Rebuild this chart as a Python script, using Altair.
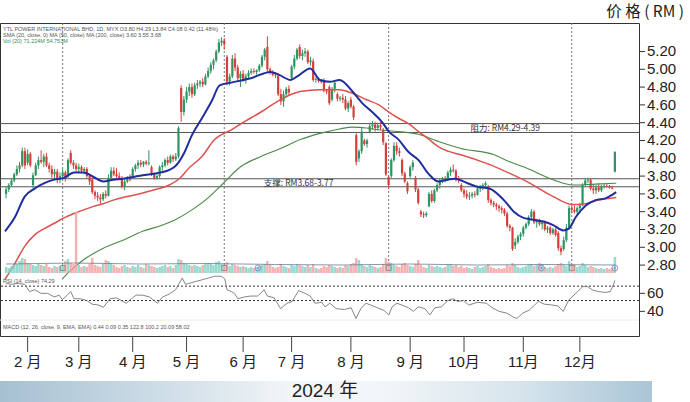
import altair as alt
import pandas as pd

FONT = "Liberation Sans, Noto Sans CJK SC, sans-serif"
CJK = "Noto Sans CJK SC, Liberation Sans, sans-serif"

# ---------------- candle data (one entry per trading day, index 0 = 19 Jan 2024) ----------------
opens = [
    3.60, 3.65, 3.70, 3.75, 3.82, 3.88, 3.92, 4.08, 3.95, 4.05,
    3.70, 3.81, 3.92, 3.98, 3.96, 4.02, 3.92, 3.88, 3.82, 3.85,
    3.76, 3.80, 3.84, 3.80, 4.06, 3.95, 3.92, 3.88, 3.90, 3.86,
    3.88, 3.80, 3.76, 3.62, 3.58, 3.56, 3.54, 3.60, 3.58, 3.78,
    3.86, 3.82, 3.80, 3.78, 3.68, 3.74, 3.78, 3.80, 3.88, 3.92,
    3.95, 3.93, 3.96, 3.94, 3.90, 3.82, 3.78, 3.80, 3.90, 3.92,
    3.98, 3.95, 4.02, 3.99, 4.02, 4.79, 4.52, 4.66, 4.75, 4.80,
    4.72, 4.82, 4.84, 4.86, 4.83, 4.92, 4.98, 5.05, 5.10, 5.20,
    5.30, 5.32, 5.14, 4.86, 4.92, 5.12, 5.02, 4.90, 4.95, 4.88,
    4.92, 4.96, 4.98, 4.97, 4.99, 5.04, 5.14, 5.25, 5.00, 4.96,
    4.94, 4.93, 4.72, 4.64, 4.72, 4.78, 4.90, 5.03, 5.12, 5.25,
    5.15, 5.18, 5.20, 5.08, 5.09, 4.88, 4.89, 4.87, 4.88, 4.76,
    4.80, 4.66, 4.78, 4.72, 4.67, 4.68, 4.66, 4.56, 4.66, 4.58,
    4.26, 4.00, 4.08, 4.20, 4.16, 4.30, 4.36, 4.38, 4.34, 4.37,
    4.32, 4.17, 3.79, 3.80, 3.98, 4.14, 4.08, 3.98, 3.83, 3.72,
    3.80, 3.90, 3.78, 3.65, 3.40, 3.37, 3.36, 3.46, 3.60, 3.52,
    3.64, 3.70, 3.75, 3.77, 3.76, 3.84, 3.87, 3.86, 3.77, 3.70,
    3.64, 3.60, 3.57, 3.58, 3.60, 3.59, 3.66, 3.68, 3.70, 3.68,
    3.53, 3.50, 3.48, 3.46, 3.44, 3.42, 3.38, 3.24, 3.22, 3.02,
    3.06, 3.12, 3.15, 3.22, 3.26, 3.34, 3.40, 3.28, 3.30, 3.26,
    3.28, 3.20, 3.22, 3.16, 3.20, 3.16, 2.99, 2.98, 3.08, 3.22,
    3.44, 3.42, 3.40, 3.44, 3.47, 3.70, 3.75, 3.76, 3.66, 3.64,
    3.67, 3.64, 3.68, 3.69, 3.68, 3.67, 3.85,
]
highs = [
    3.68, 3.72, 3.78, 3.84, 3.92, 3.96, 4.12, 4.12, 4.10, 4.07,
    3.84, 3.95, 4.02, 4.09, 4.05, 4.06, 3.95, 3.92, 3.88, 3.88,
    3.84, 3.88, 3.86, 4.00, 4.09, 3.98, 3.95, 3.94, 3.92, 3.90,
    3.90, 3.82, 3.78, 3.64, 3.62, 3.60, 3.62, 3.64, 3.82, 3.90,
    3.90, 3.89, 3.84, 3.80, 3.76, 3.80, 3.82, 3.90, 3.94, 3.98,
    3.98, 3.97, 3.98, 4.09, 3.92, 3.84, 3.84, 3.92, 3.96, 4.00,
    4.02, 4.04, 4.04, 4.06, 4.36, 4.82, 4.70, 4.80, 4.84, 4.84,
    4.85, 4.88, 4.88, 4.90, 4.95, 5.02, 5.08, 5.12, 5.22, 5.34,
    5.36, 5.35, 5.16, 4.95, 5.16, 5.18, 5.05, 4.98, 4.99, 4.95,
    4.99, 5.01, 5.01, 5.00, 5.06, 5.16, 5.24, 5.37, 5.02, 4.99,
    4.97, 4.95, 4.78, 4.76, 4.80, 4.82, 5.05, 5.16, 5.24, 5.28,
    5.22, 5.24, 5.22, 5.14, 5.12, 4.91, 4.91, 4.89, 4.90, 4.78,
    4.82, 4.80, 4.88, 4.74, 4.70, 4.72, 4.70, 4.64, 4.69, 4.60,
    4.28, 4.10, 4.34, 4.22, 4.22, 4.40, 4.42, 4.41, 4.40, 4.41,
    4.34, 4.18, 3.80, 4.00, 4.18, 4.18, 4.12, 4.00, 3.85, 3.74,
    3.92, 3.98, 3.80, 3.67, 3.42, 3.40, 3.40, 3.62, 3.64, 3.66,
    3.72, 3.77, 3.79, 3.80, 3.86, 3.90, 3.93, 3.88, 3.80, 3.72,
    3.66, 3.64, 3.62, 3.62, 3.63, 3.68, 3.70, 3.72, 3.74, 3.70,
    3.55, 3.52, 3.50, 3.48, 3.46, 3.44, 3.40, 3.26, 3.23, 3.10,
    3.14, 3.17, 3.24, 3.28, 3.36, 3.43, 3.42, 3.32, 3.32, 3.30,
    3.30, 3.24, 3.24, 3.22, 3.22, 3.18, 3.02, 3.12, 3.26, 3.47,
    3.48, 3.47, 3.46, 3.50, 3.72, 3.78, 3.78, 3.77, 3.70, 3.70,
    3.72, 3.70, 3.71, 3.71, 3.70, 3.69, 4.08,
]
lows = [
    3.55, 3.62, 3.68, 3.73, 3.80, 3.84, 3.90, 3.88, 3.92, 3.90,
    3.66, 3.80, 3.88, 3.94, 3.90, 3.90, 3.84, 3.78, 3.76, 3.72,
    3.72, 3.76, 3.74, 3.78, 3.93, 3.88, 3.85, 3.84, 3.83, 3.82,
    3.78, 3.70, 3.60, 3.54, 3.52, 3.49, 3.52, 3.55, 3.57, 3.76,
    3.80, 3.78, 3.76, 3.66, 3.64, 3.72, 3.74, 3.78, 3.85, 3.88,
    3.90, 3.90, 3.92, 3.92, 3.80, 3.76, 3.76, 3.78, 3.86, 3.90,
    3.92, 3.94, 3.96, 3.97, 4.00, 4.41, 4.48, 4.62, 4.70, 4.68,
    4.70, 4.78, 4.80, 4.80, 4.82, 4.90, 4.95, 5.00, 5.08, 5.18,
    5.26, 5.22, 4.82, 4.82, 4.90, 4.98, 4.86, 4.80, 4.86, 4.84,
    4.90, 4.94, 4.95, 4.94, 4.97, 5.02, 5.10, 4.97, 4.94, 4.92,
    4.90, 4.70, 4.60, 4.58, 4.68, 4.70, 4.88, 5.00, 5.10, 5.12,
    5.10, 5.14, 5.06, 5.04, 4.86, 4.85, 4.85, 4.84, 4.74, 4.72,
    4.60, 4.64, 4.74, 4.64, 4.64, 4.62, 4.54, 4.52, 4.56, 4.43,
    3.92, 3.96, 4.05, 4.14, 4.12, 4.28, 4.32, 4.30, 4.31, 4.32,
    4.15, 3.80, 3.66, 3.78, 3.96, 4.04, 4.02, 3.80, 3.72, 3.60,
    3.78, 3.86, 3.62, 3.48, 3.34, 3.33, 3.34, 3.45, 3.50, 3.50,
    3.62, 3.66, 3.72, 3.73, 3.75, 3.80, 3.84, 3.74, 3.72, 3.62,
    3.56, 3.54, 3.53, 3.55, 3.56, 3.58, 3.62, 3.64, 3.66, 3.50,
    3.47, 3.45, 3.42, 3.40, 3.38, 3.35, 3.22, 3.18, 2.96, 2.98,
    3.04, 3.08, 3.12, 3.20, 3.24, 3.30, 3.26, 3.22, 3.24, 3.20,
    3.18, 3.16, 3.14, 3.14, 3.12, 2.96, 2.91, 2.96, 3.06, 3.20,
    3.38, 3.38, 3.36, 3.42, 3.46, 3.68, 3.72, 3.64, 3.60, 3.60,
    3.62, 3.62, 3.66, 3.67, 3.66, 3.65, 3.84,
]
closes = [
    3.65, 3.70, 3.75, 3.82, 3.88, 3.92, 4.08, 3.92, 4.05, 3.92,
    3.81, 3.92, 3.98, 3.96, 4.02, 3.92, 3.88, 3.82, 3.85, 3.76,
    3.80, 3.84, 3.78, 3.98, 3.95, 3.92, 3.88, 3.90, 3.86, 3.88,
    3.80, 3.74, 3.62, 3.58, 3.56, 3.54, 3.60, 3.58, 3.78, 3.86,
    3.82, 3.80, 3.78, 3.68, 3.74, 3.78, 3.76, 3.88, 3.92, 3.95,
    3.93, 3.96, 3.94, 3.95, 3.82, 3.78, 3.80, 3.90, 3.92, 3.98,
    3.95, 4.02, 3.99, 4.02, 4.34, 4.52, 4.66, 4.75, 4.80, 4.72,
    4.82, 4.84, 4.86, 4.83, 4.92, 4.98, 5.05, 5.10, 5.20, 5.30,
    5.32, 5.28, 4.86, 4.92, 5.12, 5.02, 4.90, 4.95, 4.88, 4.92,
    4.96, 4.98, 4.97, 4.99, 5.04, 5.14, 5.22, 5.00, 4.96, 4.94,
    4.93, 4.72, 4.64, 4.72, 4.78, 4.74, 5.03, 5.12, 5.22, 5.15,
    5.18, 5.20, 5.08, 5.10, 4.88, 4.89, 4.87, 4.86, 4.76, 4.75,
    4.62, 4.78, 4.85, 4.67, 4.68, 4.66, 4.56, 4.62, 4.58, 4.46,
    3.96, 4.08, 4.30, 4.16, 4.20, 4.36, 4.38, 4.34, 4.37, 4.35,
    4.18, 3.82, 3.70, 3.98, 4.14, 4.08, 4.06, 3.83, 3.74, 3.63,
    3.90, 3.95, 3.65, 3.50, 3.37, 3.36, 3.38, 3.60, 3.52, 3.64,
    3.70, 3.75, 3.77, 3.76, 3.84, 3.87, 3.86, 3.77, 3.76, 3.64,
    3.60, 3.57, 3.58, 3.60, 3.59, 3.66, 3.68, 3.70, 3.72, 3.53,
    3.50, 3.48, 3.46, 3.44, 3.42, 3.38, 3.24, 3.22, 2.98, 3.06,
    3.12, 3.15, 3.22, 3.26, 3.34, 3.40, 3.28, 3.30, 3.26, 3.28,
    3.20, 3.22, 3.16, 3.20, 3.14, 2.99, 2.95, 3.08, 3.22, 3.44,
    3.42, 3.40, 3.44, 3.47, 3.70, 3.75, 3.76, 3.66, 3.64, 3.67,
    3.64, 3.68, 3.69, 3.68, 3.67, 3.66, 4.07,
]
volumes = [  # million shares
    6, 5, 7, 8, 9, 12, 15, 14, 10, 9,
    8, 7, 9, 8, 7, 9, 6, 5, 7, 6,
    7, 8, 12, 14, 10, 9, 61, 8, 6, 7,
    6, 9, 15, 8, 7, 6, 9, 13, 12, 10,
    8, 6, 5, 7, 8, 6, 5, 7, 6, 8,
    6, 5, 9, 8, 7, 6, 5, 6, 7, 8,
    6, 7, 5, 8, 14, 13, 10, 9, 8, 7,
    8, 7, 6, 8, 9, 10, 9, 8, 11, 12,
    9, 8, 11, 7, 9, 8, 7, 6, 7, 6,
    5, 6, 5, 6, 7, 8, 9, 12, 8, 6,
    5, 6, 9, 7, 6, 5, 8, 7, 9, 8,
    7, 6, 8, 6, 9, 5, 4, 5, 7, 6,
    8, 7, 6, 5, 6, 5, 8, 7, 9, 10,
    15, 13, 9, 7, 6, 8, 7, 6, 5, 6,
    9, 15, 11, 10, 8, 7, 6, 9, 10, 8,
    7, 6, 9, 13, 8, 6, 5, 8, 7, 6,
    7, 6, 5, 6, 8, 9, 7, 8, 6, 7,
    5, 6, 5, 4, 6, 7, 5, 6, 7, 9,
    6, 5, 4, 5, 4, 5, 8, 7, 10, 8,
    6, 5, 6, 7, 8, 9, 7, 8, 10, 9,
    6, 5, 6, 5, 7, 9, 10, 8, 7, 12,
    9, 8, 6, 7, 10, 8, 6, 7, 6, 5,
    4, 5, 4, 5, 4, 5, 16,
]

# ---------------- moving averages (read at points along each curve) ----------------
ma20_idx = [-0.4, 3.3, 6.9, 10.6, 14.2, 17.9, 21.5, 25.2, 28.8, 32.5, 36.1, 39.8, 43.4, 47.1, 50.7,
            55.5, 60.6, 62.8, 66.1, 69.0, 72.7, 76.3, 79.3, 83.6, 90.9, 98.2, 101.2, 105.6, 108.1,
            112.9, 116.5, 120.2, 123.8, 128.6, 132.2, 135.9, 139.5, 142.1, 145.7, 149.4, 153.1,
            156.7, 160.4, 164.0, 166.6, 171.3, 175.0, 179.4, 184.8, 188.5, 192.1, 195.8, 199.4,
            203.1, 206.8, 208.9, 211.5, 215.2, 218.8, 222.5, 225.0, 226.5]
ma20_val = [3.18, 3.34, 3.57, 3.66, 3.72, 3.76, 3.78, 3.84, 3.84, 3.79, 3.74, 3.76, 3.77, 3.79, 3.81,
            3.83, 3.87, 3.91, 4.06, 4.26, 4.45, 4.64, 4.82, 4.85, 4.90, 4.97, 4.94, 4.88, 4.92,
            5.01, 4.88, 4.86, 4.88, 4.75, 4.62, 4.52, 4.41, 4.30, 4.21, 4.07, 3.98,
            3.83, 3.74, 3.76, 3.77, 3.72, 3.68, 3.66, 3.53, 3.40, 3.33, 3.31, 3.29,
            3.25, 3.19, 3.21, 3.34, 3.47, 3.53, 3.55, 3.59, 3.62]
ma50_idx = [-0.4, 3.3, 6.9, 10.6, 14.2, 17.9, 21.5, 25.2, 28.8, 32.5, 36.1, 39.8, 43.4, 48.2, 54.4,
            60.6, 64.3, 67.9, 72.7, 77.4, 83.6, 87.3, 94.6, 101.9, 109.2, 116.5, 123.8, 128.6,
            133.7, 138.4, 142.1, 145.7, 149.4, 153.1, 156.7, 160.4, 164.0, 168.8, 178.6, 187.0,
            193.2, 203.1, 210.4, 215.2, 219.9, 226.5]
ma50_val = [2.64, 2.82, 3.01, 3.14, 3.21, 3.27, 3.33, 3.38, 3.42, 3.46, 3.49, 3.53, 3.56, 3.59, 3.64,
            3.70, 3.77, 3.89, 4.02, 4.21, 4.32, 4.39, 4.52, 4.66, 4.75, 4.77, 4.77, 4.73,
            4.66, 4.60, 4.52, 4.45, 4.39, 4.30, 4.22, 4.13, 4.08, 4.04, 3.94, 3.83,
            3.74, 3.57, 3.48, 3.49, 3.53, 3.56]
ma200_idx = [20.8, 23.3, 28.8, 36.1, 43.4, 50.7, 58.1, 62.8, 69.0, 75.2, 80.0, 87.3, 94.6, 101.9,
             109.2, 116.5, 123.8, 128.6, 133.7, 138.4, 145.7, 153.1, 160.4, 168.8, 181.2, 187.0,
             193.2, 203.1, 210.4, 218.8, 226.5]
ma200_val = [2.64, 2.72, 2.86, 2.99, 3.08, 3.18, 3.25, 3.31, 3.42, 3.56, 3.70, 3.91, 4.02, 4.11,
             4.21, 4.28, 4.33, 4.35, 4.34, 4.32, 4.30, 4.27, 4.19, 4.11, 4.04, 3.96,
             3.89, 3.76, 3.70, 3.71, 3.72]
volma_idx = [0, 25, 50, 75, 100, 125, 150, 175, 200, 226]
volma_val = [9, 10, 9, 9.5, 8.5, 8, 9, 8, 8.5, 8]

# ---------------- RSI (read at points) ----------------
rsi_idx = [0, 2.0, 4.5, 6.9, 8.7, 10.6, 13.0, 15.4, 17.9, 19.7, 20.9, 22.7, 24.0, 25.2, 27.6, 30.0,
           31.9, 34.3, 36.1, 38.6, 41.0, 42.8, 44.6, 46.5, 48.3, 50.7, 53.2, 55.0, 56.2, 58.1, 60.5,
           62.9, 65.4, 66.6, 67.8, 70.2, 72.7, 75.1, 77.5, 79.9, 81.2, 82.0, 83.6, 84.8, 86.0, 88.5,
           90.9, 93.4, 95.8, 97.0, 99.5, 101.9, 104.3, 106.2, 108.6, 111.0, 112.9, 114.7, 117.2,
           118.4, 120.2, 122.6, 125.6, 128.1, 129.9, 131.7, 133.6, 135.4, 137.8, 140.3, 142.1, 143.3,
           145.1, 146.9, 149.4, 151.2, 153.0, 155.5, 157.3, 159.2, 161.6, 164.0, 165.9, 167.7, 169.9,
           171.7, 175.0, 178.3, 180.5, 183.0, 185.9, 188.1, 189.6, 191.8, 194.3, 196.2, 197.6, 199.8,
           202.7, 204.9, 206.8, 208.9, 211.5, 214.1, 215.9, 217.7, 219.9, 222.5, 224.3, 225.4, 226.0]
rsi_val = [71, 70, 71, 70, 62, 64, 60, 60, 56, 58, 53, 58, 62, 54, 54, 52,
           48, 47, 44.5, 54, 55, 52, 49, 54, 58, 58, 56, 52, 49, 56, 59,
           64, 77, 70, 71, 73, 75, 77, 79, 79, 76, 64, 62, 60, 54, 56,
           57, 57, 64, 57, 55, 43, 49, 51, 63, 60, 57, 49, 50,
           45, 49, 43, 42, 44, 32, 43, 49, 47, 44, 41, 36, 45,
           49, 47, 44, 40, 45, 43, 36, 44, 45, 52, 54, 51, 52,
           47, 50, 49, 44, 40, 38, 34, 32, 38, 41.5, 47, 51, 48,
           47, 46, 40, 52.6, 60, 67.5, 67.5, 63.7, 62, 61, 62, 69, 74.3]

# ---------------- axes, levels, labels ----------------
month_starts = [8, 27, 47, 67, 88, 106, 128, 150, 170, 192, 213]
month_labels = ["2 月", "3 月", "4 月", "5 月", "6 月", "7 月", "8 月", "9 月", "10月", "11月", "12月"]
price_ticks = [2.8, 3.0, 3.2, 3.4, 3.6, 3.8, 4.0, 4.2, 4.4, 4.6, 4.8, 5.0, 5.2]
sr_levels = [4.39, 4.29, 3.77, 3.68]
sr_labels = ["阻力: RM4.29-4.39", "支撑: RM3.68-3.77"]
sr_label_idx = [172.4, 95.7]
sr_label_price = [4.34, 3.725]
event_idx = [21, 81, 142, 210]
circle_idx = [93.5, 198.7, 226]
rsi_levels = [68, 52]
rsi_ticks = [60, 40]

info_lines = [
    "YTL POWER INTERNATIONAL BHD, 1D, MYX   O3.80  H4.29  L3.84  C4.08  0.42 (11.48%)",
    "SMA (20, close, 0)  MA (50, close)  MA (200, close)   3.60  3.55  3.68",
    "Vol (20)  71.224M  54.753M",
]
rsi_title = "RSI (14, close)  74.29"
macd_title = "MACD (12, 26, close, 9, EMA, EMA)  0.44  0.09  0.35  122.8  100.2  20.09  58.02"

assert len(opens) == len(highs) == len(lows) == len(closes) == len(volumes)
assert len(rsi_idx) == len(rsi_val)
assert len(ma20_idx) == len(ma20_val) and len(ma50_idx) == len(ma50_val) and len(ma200_idx) == len(ma200_val)

# ---------------- scales ----------------
XDOM = [-0.4, 233.1]
PDOM = [2.0034, 5.520]
VDOM = [-63, 250]
RDOM = [12.6, 360.4]

xs = alt.Scale(domain=XDOM, nice=False, zero=False)
ps = alt.Scale(domain=PDOM, nice=False, zero=False)
vs = alt.Scale(domain=VDOM, nice=False, zero=False)
rs = alt.Scale(domain=RDOM, nice=False, zero=False)

xq = alt.X("i:Q", scale=xs, axis=None)

cdf = pd.DataFrame({"i": list(range(len(closes))), "o": opens, "h": highs, "l": lows,
                    "c": closes, "v": volumes})
base = alt.Chart(cdf).transform_calculate(
    col="datum.c >= datum.o ? '#2f9460' : '#d6403c'",
    vcol="datum.c >= datum.o ? '#86d2c8' : '#f4a5a5'",
)

# ---------------- price panel ----------------
sr_rules = alt.Chart(pd.DataFrame({"p": sr_levels})).mark_rule(color="#555", strokeWidth=1).encode(
    y=alt.Y("p:Q", scale=ps, axis=None))
event_rules = alt.Chart(pd.DataFrame({"i": event_idx})).mark_rule(
    color="#777", strokeWidth=1, strokeDash=[2, 2]).encode(
    x=xq, y=alt.value(0), y2=alt.value(246))
wicks = base.mark_rule(strokeWidth=1).encode(
    x=xq, y=alt.Y("l:Q", scale=ps, axis=None), y2="h:Q",
    color=alt.Color("col:N", scale=None))
bodies = base.mark_bar(size=2.2, orient="vertical").encode(
    x=xq, y=alt.Y("o:Q", scale=ps, axis=None), y2="c:Q",
    color=alt.Color("col:N", scale=None))


def ma_line(idx, val, color, width):
    return alt.Chart(pd.DataFrame({"i": idx, "p": val})).mark_line(
        color=color, strokeWidth=width, interpolate="monotone").encode(
        x=xq, y=alt.Y("p:Q", scale=ps, axis=None))


ma200 = ma_line(ma200_idx, ma200_val, "#4a8a48", 1.1)
ma50 = ma_line(ma50_idx, ma50_val, "#d9534f", 1.5)
ma20 = ma_line(ma20_idx, ma20_val, "#1f2e9e", 2)
sr_text = alt.Chart(pd.DataFrame({"i": sr_label_idx, "p": sr_label_price, "t": sr_labels})).mark_text(
    align="left", baseline="middle", fontSize=8.5, font=CJK, color="#333").encode(
    x=xq, y=alt.Y("p:Q", scale=ps, axis=None), text="t:N")

# price axis drawn as tick rules + text labels on the price scale
pt_df = pd.DataFrame({"p": price_ticks, "t": ["%.2f" % v for v in price_ticks]})
price_tick_marks = alt.Chart(pt_df).mark_rule(color="#333", strokeWidth=1).encode(
    x=alt.value(639), x2=alt.value(645), y=alt.Y("p:Q", scale=ps, axis=None))
price_tick_text = alt.Chart(pt_df).mark_text(
    align="left", baseline="middle", fontSize=15, font=FONT, color="#222").encode(
    x=alt.value(647), y=alt.Y("p:Q", scale=ps, axis=None), text="t:N")

price_layer = alt.layer(sr_rules, event_rules, wicks, bodies, ma200, ma50, ma20, sr_text,
                        price_tick_marks, price_tick_text)

# ---------------- volume ----------------
vol_bars = base.mark_bar(size=2.5, orient="vertical", opacity=0.85).encode(
    x=xq, y=alt.Y("v:Q", scale=vs, axis=None), y2=alt.datum(0),
    color=alt.Color("vcol:N", scale=None))
vol_ma = alt.Chart(pd.DataFrame({"i": volma_idx, "v": volma_val})).mark_line(
    color="#6b7b94", strokeWidth=0.8).encode(x=xq, y=alt.Y("v:Q", scale=vs, axis=None))
squares = alt.Chart(pd.DataFrame({"i": event_idx})).mark_point(
    shape="square", size=24, filled=False, color="#777", strokeWidth=1).encode(
    x=xq, y=alt.value(245))
circles = alt.Chart(pd.DataFrame({"i": circle_idx})).mark_point(
    shape="circle", size=34, filled=False, color="#6d74c4", strokeWidth=1).encode(
    x=xq, y=alt.value(245))
circle_dots = alt.Chart(pd.DataFrame({"i": circle_idx})).mark_point(
    shape="circle", size=4, filled=True, color="#6d74c4").encode(x=xq, y=alt.value(245))
vol_layer = alt.layer(vol_bars, vol_ma, squares, circles, circle_dots)

# ---------------- RSI ----------------
rsi_rules = alt.Chart(pd.DataFrame({"r": rsi_levels})).mark_rule(
    color="#333", strokeWidth=1, strokeDash=[2, 2]).encode(y=alt.Y("r:Q", scale=rs, axis=None))
rsi_line = alt.Chart(pd.DataFrame({"i": rsi_idx, "r": rsi_val})).mark_line(
    color="#777", strokeWidth=0.9).encode(x=xq, y=alt.Y("r:Q", scale=rs, axis=None))
rsi_tdf = pd.DataFrame({"r": rsi_ticks, "t": [str(t) for t in rsi_ticks]})
rsi_tick_marks = alt.Chart(rsi_tdf).mark_rule(color="#333", strokeWidth=1).encode(
    x=alt.value(639), x2=alt.value(645), y=alt.Y("r:Q", scale=rs, axis=None))
rsi_tick_text = alt.Chart(rsi_tdf).mark_text(
    align="left", baseline="middle", fontSize=15, font=FONT, color="#222").encode(
    x=alt.value(647), y=alt.Y("r:Q", scale=rs, axis=None), text="t:N")
rsi_layer = alt.layer(rsi_rules, rsi_line, rsi_tick_marks, rsi_tick_text)

# ---------------- month axis (ticks + labels on the x scale) ----------------
mdf = pd.DataFrame({"i": month_starts, "t": month_labels})
month_ticks = alt.Chart(mdf).mark_rule(color="#444", strokeWidth=1).encode(
    x=xq, y=alt.value(313), y2=alt.value(329))
month_text = alt.Chart(mdf).mark_text(
    align="center", baseline="middle", fontSize=15, font=FONT, color="#222").encode(
    x=xq, y=alt.value(339), text="t:N")

# ---------------- decorations ----------------
one = pd.DataFrame({"k": [0]})
banner = alt.Chart(one).mark_rect(
    fill=alt.LinearGradient(
        gradient="linear", x1=0, x2=1, y1=0, y2=0,
        stops=[alt.GradientStop(color="#a6c0d2", offset=0),
               alt.GradientStop(color="#d3e1ea", offset=0.28),
               alt.GradientStop(color="#f3f6f8", offset=0.45),
               alt.GradientStop(color="#f3f6f8", offset=0.58),
               alt.GradientStop(color="#d6e4ec", offset=0.8),
               alt.GradientStop(color="#a9c5d6", offset=1)])).encode(
    x=alt.value(0), x2=alt.value(652), y=alt.value(358), y2=alt.value(379))


def txt(s, x, y, size, color="#222", align="left", font=FONT):
    return alt.Chart(one).mark_text(text=s, fontSize=size, color=color, align=align,
                                    baseline="middle", font=font).encode(
        x=alt.value(x), y=alt.value(y))


year_text = txt("2024 年", 325, 368, 19, align="center")
title_text = txt("价 格 ( RM )", 684, -11, 15.5, align="right", font=CJK)
info1 = txt(info_lines[0], 3, 6, 5.5, "#555")
info2 = txt(info_lines[1], 3, 12, 5.5, "#555")
info3 = txt(info_lines[2], 3, 18, 5.5, "#3a8a5a")
rsi_lab = txt(rsi_title, 3, 258, 5.5, "#555")
macd_lab = txt(macd_title, 3, 304, 5.5, "#555")
sep = alt.Chart(one).mark_rule(color="#ececec", strokeWidth=1).encode(
    x=alt.value(0), x2=alt.value(639), y=alt.value(297))
deco_layer = alt.layer(banner, year_text, title_text, info1, info2, info3, rsi_lab, macd_lab, sep,
                       month_ticks, month_text)

chart = alt.layer(price_layer, vol_layer, rsi_layer, deco_layer).resolve_scale(
    y="independent"
).properties(
    width=639, height=313,
    padding={"left": 0, "top": 23, "right": 51, "bottom": 66},
    autosize=alt.AutoSizeParams(type="none"),
    background="white",
).configure_view(stroke="#333", strokeWidth=1)

chart.save("out.html", embed_options={"renderer": "svg", "actions": False})
